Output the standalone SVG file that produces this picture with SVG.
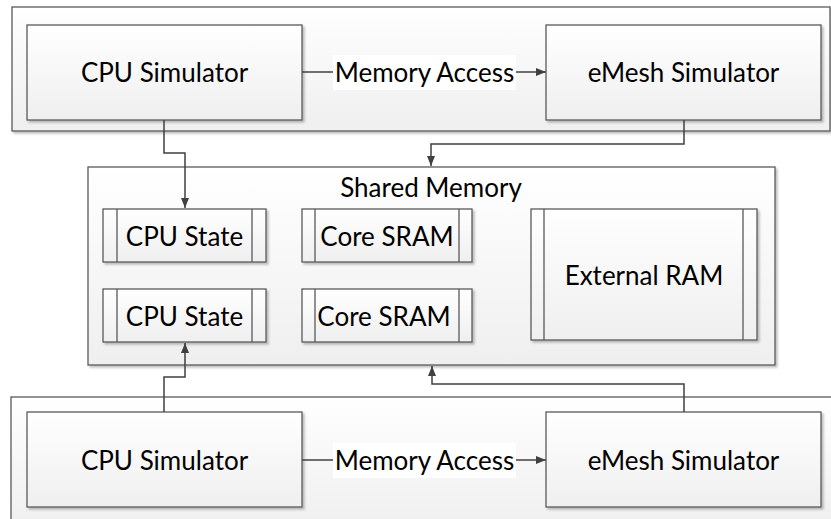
<svg xmlns="http://www.w3.org/2000/svg" width="831" height="519" viewBox="0 0 831 519">
<defs>
<linearGradient id="g" x1="0" y1="0" x2="0" y2="1"><stop offset="0" stop-color="#ffffff"/><stop offset="1" stop-color="#efefef"/></linearGradient>
<marker id="ah" markerWidth="10" markerHeight="8" refX="10" refY="4" orient="auto" markerUnits="userSpaceOnUse"><path d="M0,0 L10,4 L0,8 Z" fill="#404040"/></marker>
<filter id="sh" x="-5%" y="-5%" width="110%" height="115%"><feDropShadow dx="2" dy="2" stdDeviation="1" flood-color="#000" flood-opacity="0.25"/></filter>
</defs>
<style>
.box{fill:url(#g);stroke:#595959;stroke-width:1.3}
.cont{fill:url(#g);stroke:#595959;stroke-width:1.3}
.ln{fill:none;stroke:#595959;stroke-width:1.3}
.t{font-family:Lato,"Open Sans",sans-serif;font-size:26px;fill:#000;text-anchor:middle;dominant-baseline:central}
.c{fill:none;stroke:#404040;stroke-width:1.5}
</style>
<g id="top-container"><rect class="cont" x="12" y="7" width="818" height="124" filter="url(#sh)"/></g>
<g id="bottom-container"><rect class="cont" x="11" y="397" width="825" height="130" filter="url(#sh)"/></g>
<g id="shared-memory"><rect class="cont" x="88" y="167" width="687" height="198" filter="url(#sh)"/><text class="t" x="431" y="187">Shared Memory</text></g>
<g id="cpu-sim-top"><rect class="box" x="27" y="25" width="275" height="95" filter="url(#sh)"/><text class="t" x="164.5" y="72">CPU Simulator</text></g>
<g id="emesh-sim-top"><rect class="box" x="546" y="25" width="275" height="95" filter="url(#sh)"/><text class="t" x="683.5" y="72">eMesh Simulator</text></g>
<g id="cpu-sim-bottom"><rect class="box" x="27" y="412" width="275" height="95" filter="url(#sh)"/><text class="t" x="164.5" y="460">CPU Simulator</text></g>
<g id="emesh-sim-bottom"><rect class="box" x="546" y="412" width="275" height="95" filter="url(#sh)"/><text class="t" x="683.5" y="460">eMesh Simulator</text></g>
<g id="cpu-state-1"><rect class="box" x="103" y="209" width="163" height="53" filter="url(#sh)"/><path class="ln" d="M117,209V262M252,209V262"/><text class="t" x="184.5" y="236">CPU State</text></g>
<g id="cpu-state-2"><rect class="box" x="103" y="289" width="163" height="53" filter="url(#sh)"/><path class="ln" d="M117,289V342M252,289V342"/><text class="t" x="184.5" y="316">CPU State</text></g>
<g id="core-sram-1"><rect class="box" x="302" y="209" width="170" height="53" filter="url(#sh)"/><path class="ln" d="M315,209V262M459,209V262"/><text class="t" x="387" y="236">Core SRAM</text></g>
<g id="core-sram-2"><rect class="box" x="302" y="289" width="170" height="53" filter="url(#sh)"/><path class="ln" d="M315,289V342M459,289V342"/><text class="t" x="384" y="316">Core SRAM</text></g>
<g id="external-ram"><rect class="box" x="531" y="209" width="226" height="131" filter="url(#sh)"/><path class="ln" d="M544,209V340M743,209V340"/><text class="t" x="644" y="275">External RAM</text></g>
<g id="connectors">
<path class="c" d="M302,72H546" marker-end="url(#ah)"/>
<path class="c" d="M302,460H546" marker-end="url(#ah)"/>
<path class="c" d="M164,120V153H185V208" marker-end="url(#ah)"/>
<path class="c" d="M684,120V144H431V166" marker-end="url(#ah)"/>
<path class="c" d="M164,412V377H185V343" marker-end="url(#ah)"/>
<path class="c" d="M684,412V384H432V366" marker-end="url(#ah)"/>
<rect x="333" y="55" width="183" height="35" fill="#fff"/>
<text class="t" x="424.5" y="72">Memory Access</text>
<rect x="333" y="443" width="183" height="35" fill="#fff"/>
<text class="t" x="424.5" y="460">Memory Access</text>
</g>
</svg>
